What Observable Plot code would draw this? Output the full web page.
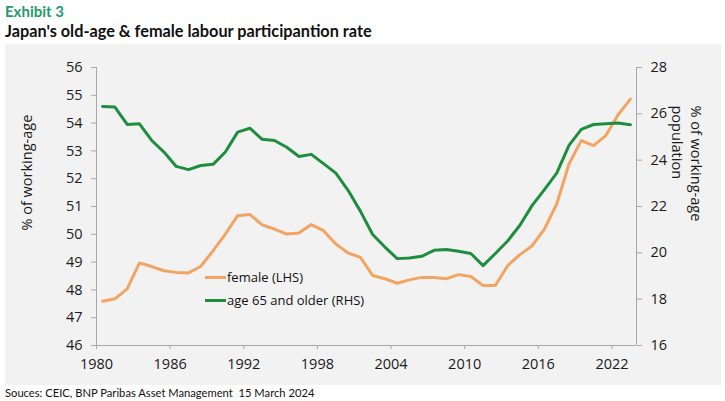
<!DOCTYPE html>
<html>
<head>
<meta charset="utf-8">
<script src="https://cdn.jsdelivr.net/npm/d3@7"></script>
<script src="https://cdn.jsdelivr.net/npm/@observablehq/plot@0.6"></script>
<style>
  html, body { margin: 0; padding: 0; background: #fff; }
  body { width: 725px; height: 401px; position: relative; overflow: hidden; font-family: Lato, "Open Sans", sans-serif; }
  #kicker { position: absolute; left: 5px; top: 4px; line-height: 15px; font-weight: 700; font-size: 15px; color: #1f9a6a; }
  #title { position: absolute; left: 5px; top: 23px; line-height: 16px; font-weight: 700; font-size: 16.3px; color: #111; }
  #panel { position: absolute; left: 5px; top: 44px; width: 716px; height: 341px; background: #f2f2f2; }
  #caption { position: absolute; left: 5px; top: 387px; line-height: 12px; font-size: 11.2px; color: #111; }
  .legend { position: absolute; left: 205px; font-family: "Open Sans", sans-serif; font-size: 13px; color: #111; display: flex; align-items: center; }
  .legend .sw { display: inline-block; width: 21px; height: 3px; margin-right: 1px; }
</style>
</head>
<body>
<div id="kicker">Exhibit 3</div>
<div id="title">Japan's old-age &amp; female labour participantion rate</div>
<div id="panel"></div>
<div id="caption">Souces: CEIC, BNP Paribas Asset Management&nbsp; 15 March 2024</div>
<script>
const years = d3.range(1980, 2024);
const female = [47.59, 47.68, 48.04, 48.97, 48.84, 48.69, 48.63, 48.61, 48.85, 49.41,
  50.01, 50.67, 50.71, 50.34, 50.19, 50.01, 50.05, 50.35, 50.13, 49.65,
  49.33, 49.17, 48.52, 48.40, 48.24, 48.36, 48.45, 48.45, 48.40, 48.55,
  48.48, 48.16, 48.16, 48.87, 49.27, 49.59, 50.19, 51.09, 52.53, 53.37,
  53.19, 53.55, 54.30, 54.86];
const older = [26.32, 26.29, 25.54, 25.57, 24.85, 24.35, 23.73, 23.59, 23.77, 23.82,
  24.35, 25.21, 25.38, 24.90, 24.85, 24.56, 24.16, 24.25, 23.85, 23.44,
  22.70, 21.80, 20.79, 20.25, 19.75, 19.78, 19.85, 20.11, 20.14, 20.07,
  19.97, 19.45, 19.97, 20.51, 21.19, 22.05, 22.73, 23.44, 24.64, 25.33,
  25.54, 25.57, 25.60, 25.53];
const xTicks = [1980, 1986, 1992, 1998, 2004, 2010, 2016, 2022];
const leftTicks = [46, 47, 48, 49, 50, 51, 52, 53, 54, 55, 56];
const rightTicks = [16, 18, 20, 22, 24, 26, 28];
const seriesNames = ["female (LHS)", "age 65 and older (RHS)"];
const colors = ["#f2a462", "#1e8e3e"];

const L = [46, 56], R = [16, 28];
const toLeft = v => L[0] + (v - R[0]) * (L[1] - L[0]) / (R[1] - R[0]);
const toRight = y => R[0] + (y - L[0]) * (R[1] - R[0]) / (L[1] - L[0]);

const femaleData = years.map((yr, i) => ({year: yr, value: female[i]}));
const olderData = years.map((yr, i) => ({year: yr, value: toLeft(older[i])}));

const axisColor = "#a8a8a8";
const plot = Plot.plot({
  width: 716,
  height: 341,
  marginLeft: 91,
  marginRight: 85,
  marginTop: 23,
  marginBottom: 40,
  style: {fontFamily: "'Open Sans', sans-serif", fontSize: "14.5px", background: "transparent", color: "#1a1a1a"},
  x: {domain: [1980, 2024]},
  y: {domain: L},
  marks: [
    Plot.ruleY([L[0]], {stroke: axisColor}),
    Plot.ruleX([1980, 2024], {stroke: axisColor}),
    Plot.axisX(xTicks, {tickSize: 4, tickPadding: 9, stroke: axisColor, fill: "#1a1a1a", tickFormat: d => String(d), label: null}),
    Plot.axisY(leftTicks, {anchor: "left", tickSize: 5, tickPadding: 9, stroke: axisColor, fill: "#1a1a1a", label: null}),
    Plot.axisY(rightTicks.map(toLeft), {anchor: "right", tickSize: 5, tickPadding: 9, stroke: axisColor, fill: "#1a1a1a", tickFormat: y => String(Math.round(toRight(y))), label: null}),
    Plot.text(["% of working-age"], {frameAnchor: "left", rotate: -90, dx: -69, dy: 24, fontSize: 14.5, fill: "#1a1a1a"}),
    Plot.text(["% of working-age\npopulation"], {frameAnchor: "top-right", rotate: 90, textAnchor: "start", lineAnchor: "top", lineHeight: 1.3, dx: 68, dy: 38, fontSize: 14.5, fill: "#1a1a1a"}),
    Plot.line(femaleData, {x: d => d.year + 0.5, y: "value", stroke: colors[0], strokeWidth: 3}),
    Plot.line(olderData, {x: d => d.year + 0.5, y: "value", stroke: colors[1], strokeWidth: 3})
  ]
});
document.getElementById("panel").appendChild(plot);

const tops = [268, 291];
seriesNames.forEach((name, i) => {
  const el = document.createElement("div");
  el.className = "legend";
  el.style.top = tops[i] + "px";
  el.innerHTML = `<span class="sw" style="background:${colors[i]}"></span><span>${name}</span>`;
  document.body.appendChild(el);
});
</script>
</body>
</html>
